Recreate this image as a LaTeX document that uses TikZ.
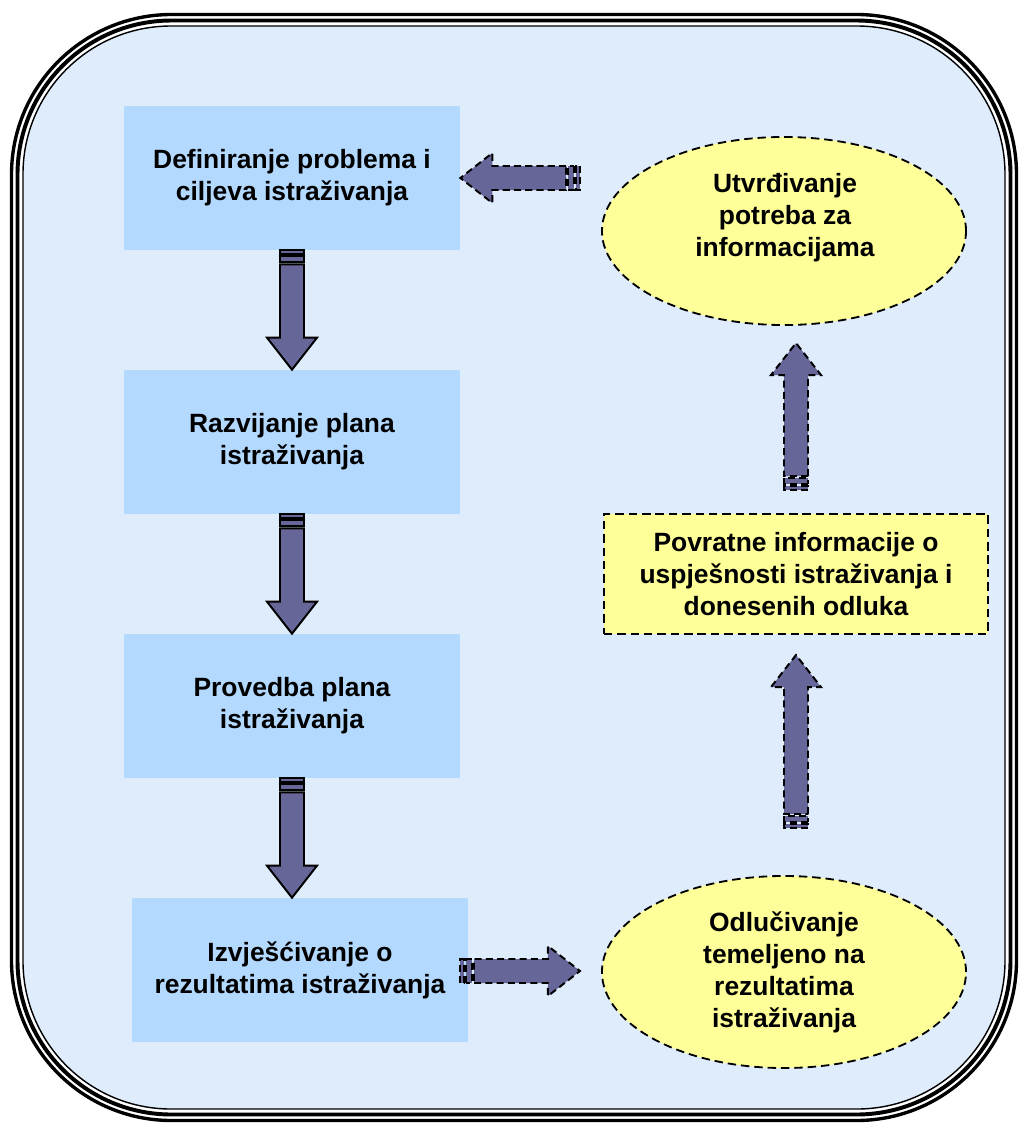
\documentclass[tikz,border=0pt]{standalone}
\usepackage{fontspec}
\setmainfont{Liberation Sans}
\usetikzlibrary{calc, shapes.geometric}

\definecolor{framebg}{RGB}{222,236,252}
\definecolor{stepblue}{RGB}{179,217,255}
\definecolor{noteyellow}{RGB}{255,255,153}
\definecolor{arrowfill}{RGB}{102,102,153}

\newcommand{\bararrow}[3][]{%
	\path let \p1 = ($(#3)-(#2)$) in \pgfextra{%
		\pgfmathsetmacro{\arrlen}{veclen(\x1,\y1)/0.71132}\global\let\arrlen\arrlen
		\pgfmathsetmacro{\arrang}{atan2(\y1,\x1)}\global\let\arrang\arrang};
	\begin{scope}[shift={(#2)}, rotate=\arrang, x=0.025cm, y=0.025cm]
		\filldraw[blockarrow, #1] (0,-12) rectangle (4,12);
		\filldraw[blockarrow, #1] (6,-12) rectangle (12,12);
		\filldraw[blockarrow, #1] (14,-12) -- ({\arrlen-32},-12) -- ({\arrlen-32},-25)
			-- (\arrlen,0) -- ({\arrlen-32},25) -- ({\arrlen-32},12) -- (14,12) -- cycle;
	\end{scope}}

\begin{document}
\begin{tikzpicture}[x=0.025cm, y=-0.025cm,
	txt/.style={align=center, font=\fontsize{18.8}{22.7}\selectfont\bfseries, inner sep=0pt},
	stepbox/.style={txt, fill=stepblue, minimum width=8.4cm, minimum height=3.6cm},
	noteellipse/.style={txt, ellipse, fill=noteyellow, draw=black, line width=1.3pt,
		dash pattern=on 6pt off 3.5pt, minimum width=9.1cm, minimum height=4.7cm},
	notebox/.style={txt, fill=noteyellow, draw=black, line width=1.3pt,
		dash pattern=on 6pt off 3.5pt, minimum width=9.6cm, minimum height=3cm},
	blockarrow/.style={fill=arrowfill, draw=black, line width=1.4pt, line join=miter},
	dasharrow/.style={dash pattern=on 5pt off 3pt}]

	\useasboundingbox (0,0) rectangle (1020,1126);

	\begin{scope}
		\draw[line width=2.4pt, rounded corners=4cm] (11.5,14.5) rectangle (1016.5,1120.5);
		\draw[line width=2.8pt, rounded corners=3.85cm] (17.5,20.5) rectangle (1010.5,1114.5);
		\filldraw[fill=framebg, line width=1pt, rounded corners=3.7cm] (23,26) rectangle (1005,1109);
	\end{scope}

	\begin{scope}
		\node[stepbox] (def) at (292,178) {Definiranje problema i\\ciljeva istraživanja};
		\node[stepbox] (plan) at (292,442) {Razvijanje plana\\istraživanja};
		\node[stepbox] (prov) at (292,706) {Provedba plana\\istraživanja};
		\node[stepbox] (izv) at (300,970) {Izvješćivanje o\\rezultatima istraživanja};
	\end{scope}

	\begin{scope}
		\node[noteellipse] (need) at (784,231) {};
		\node[txt] (needtxt) at (785,218) {Utvrđivanje\\potreba za\\informacijama};
		\node[notebox] (fb) at (796,574) {Povratne informacije o\\uspješnosti istraživanja i\\donesenih odluka};
		\node[noteellipse, minimum height=4.8cm] (odl) at (784,972) {Odlučivanje\\temeljeno na\\rezultatima\\istraživanja};
	\end{scope}

	\begin{scope}
		\foreach \a/\b in {def/plan, plan/prov, prov/izv}
		{
			\bararrow{\a.south}{\a.south |- \b.north}
		}

		\coordinate (izvtail) at (460,971);
		\coordinate (odltip) at (580,971);
		\coordinate (odltail) at (796,828);
		\coordinate (fbtip) at (796,655);
		\coordinate (fbtail) at (796,490);
		\coordinate (needtip) at (796,343);
		\coordinate (needtail) at (580,178);

		\bararrow[dasharrow]{izvtail}{odltip}
		\bararrow[dasharrow]{odltail}{fbtip}
		\bararrow[dasharrow]{fbtail}{needtip}
		\bararrow[dasharrow]{needtail}{def.east}
	\end{scope}
\end{tikzpicture}
\end{document}
